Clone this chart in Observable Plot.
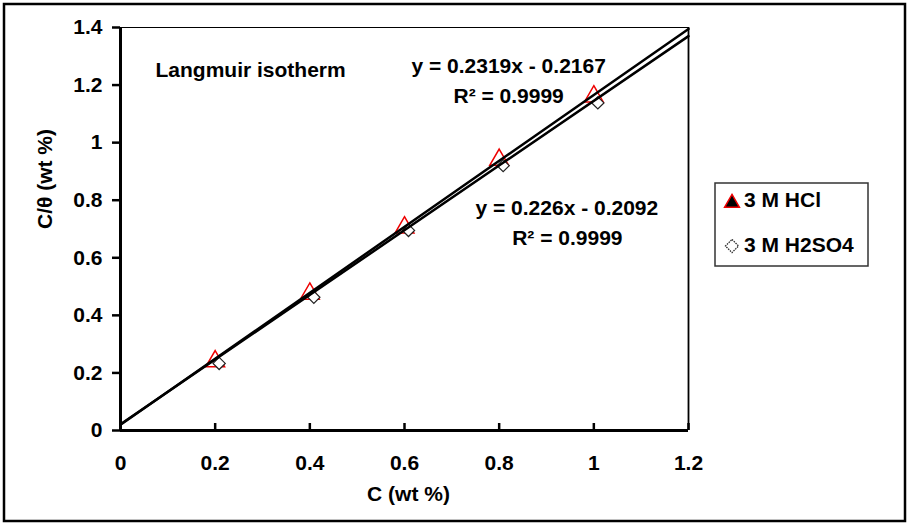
<!DOCTYPE html>
<html>
<head>
<meta charset="utf-8">
<script src="https://cdn.jsdelivr.net/npm/d3@7"></script>
<script src="https://cdn.jsdelivr.net/npm/@observablehq/plot@0.6"></script>
<style>
  body { margin: 0; background: #fff; }
  #chart svg { display: block; }
</style>
</head>
<body>
<div id="chart"></div>
<script>
// ---- data ----
const concentrations = [0.2, 0.4, 0.6, 0.8, 1.0];
const hclValues = [0.24, 0.475, 0.705, 0.94, 1.16];
const h2so4Values = [0.233, 0.463, 0.695, 0.92, 1.138];
const fitX = [0, 1.2];
const hclFit = [0.02, 1.395];
const h2so4Fit = [0.022, 1.37];
const xTicks = [0, 0.2, 0.4, 0.6, 0.8, 1, 1.2];
const yTicks = [0, 0.2, 0.4, 0.6, 0.8, 1, 1.2, 1.4];
const seriesNames = ["3 M HCl", "3 M H2SO4"];
const titleText = "Langmuir isotherm";
const titleX = [0.074];
const titleY = [1.25];
const equationTexts = ["y = 0.2319x - 0.2167", "R\u00B2 = 0.9999", "y = 0.226x - 0.2092", "R\u00B2 = 0.9999"];
const equationX = [0.82, 0.82, 0.943, 0.944];
const equationY = [1.267, 1.16, 0.771, 0.667];
const xLabel = "C (wt %)";
const yLabel = "C/\u03B8 (wt %)";

// ---- tables ----
const hcl = concentrations.map((c, i) => ({c, v: hclValues[i]}));
const h2so4 = concentrations.map((c, i) => ({c, v: h2so4Values[i]}));
const fitHcl = fitX.map((c, i) => ({c, v: hclFit[i]}));
const fitH2so4 = fitX.map((c, i) => ({c, v: h2so4Fit[i]}));
const equations = equationTexts.map((t, i) => ({t, x: equationX[i], y: equationY[i]}));
const titles = [{t: titleText, x: titleX[0], y: titleY[0]}];

const W = 913, H = 523;
const mL = 120, mR = 225, mT = 27, mB = 93;
const innerH = H - mT - mB;

function legendMark() {
  const g = d3.create("svg:g").attr("text-anchor", "start");
  g.append("rect").attr("x", 715).attr("y", 183).attr("width", 153).attr("height", 83)
    .attr("fill", "#fff").attr("stroke", "#333").attr("stroke-width", 1.5);
  g.append("path").attr("transform", "translate(732,203)")
    .attr("d", d3.symbol(d3.symbolTriangle, 95)())
    .attr("fill", "#000").attr("stroke", "#e00").attr("stroke-width", 1.5);
  g.append("path").attr("transform", "translate(732,246)")
    .attr("d", d3.symbol(d3.symbolDiamond2, 110)())
    .attr("fill", "#fff").attr("stroke", "#222").attr("stroke-width", 1.2)
    .attr("stroke-dasharray", "1.5,1");
  const rows = [200, 245];
  seriesNames.forEach((name, i) => {
    g.append("text").attr("x", 744).attr("y", rows[i]).attr("dy", "0.35em")
      .attr("text-anchor", "start").attr("fill", "#000").text(name);
  });
  return g.node();
}

function borderMark() {
  return d3.create("svg:rect").attr("x", 4).attr("y", 4).attr("width", 901).attr("height", 517)
    .attr("fill", "none").attr("stroke", "#000").attr("stroke-width", 2.5).node();
}

const chart = Plot.plot({
  width: W, height: H,
  marginLeft: mL, marginRight: mR, marginTop: mT, marginBottom: mB,
  x: {domain: [0, 1.2]},
  y: {domain: [0, 1.4]},
  style: {fontFamily: "'Liberation Sans', Arial, sans-serif", fontSize: "21px", fontWeight: "bold", color: "#000", background: "#fff"},
  marks: [
    borderMark,
    Plot.ruleY([1.4], {stroke: "#000", strokeWidth: 1.2}),
    Plot.ruleX([1.2], {stroke: "#000", strokeWidth: 1.8}),
    Plot.axisY({ticks: yTicks, tickSize: 8, tickPadding: 10, tickFormat: d => String(d), strokeWidth: 2.5, label: null}),
    Plot.axisX({ticks: xTicks, tickSize: 0, tickPadding: 25, tickFormat: d => String(d), label: null}),
    Plot.tickX(xTicks, {x: d => d, insetTop: innerH - 7, strokeWidth: 2.5, stroke: "#000"}),
    Plot.dot(hcl, {x: "c", y: "v", symbol: "triangle", r: 7, fill: "#fff", stroke: "#e00", strokeWidth: 1.5}),
    Plot.dot(h2so4, {x: "c", y: "v", dx: 4, symbol: "diamond2", r: 5.5, fill: "#fff", stroke: "#222", strokeWidth: 1.2}),
    Plot.line(fitHcl, {x: "c", y: "v", stroke: "#000", strokeWidth: 2.5}),
    Plot.line(fitH2so4, {x: "c", y: "v", stroke: "#000", strokeWidth: 2.5}),
    Plot.ruleX([0], {stroke: "#000", strokeWidth: 3}),
    Plot.ruleY([0], {stroke: "#000", strokeWidth: 3}),
    Plot.text(titles, {x: "x", y: "y", text: "t", textAnchor: "start", fill: "#000"}),
    Plot.text(equations, {x: "x", y: "y", text: "t", textAnchor: "middle", fill: "#000"}),
    Plot.text([xLabel], {frameAnchor: "bottom", dy: 70, dx: 4, fill: "#000"}),
    Plot.text([yLabel], {frameAnchor: "left", dx: -75, rotate: -90, fill: "#000"}),
    legendMark
  ]
});
document.getElementById("chart").appendChild(chart);
</script>
</body>
</html>
